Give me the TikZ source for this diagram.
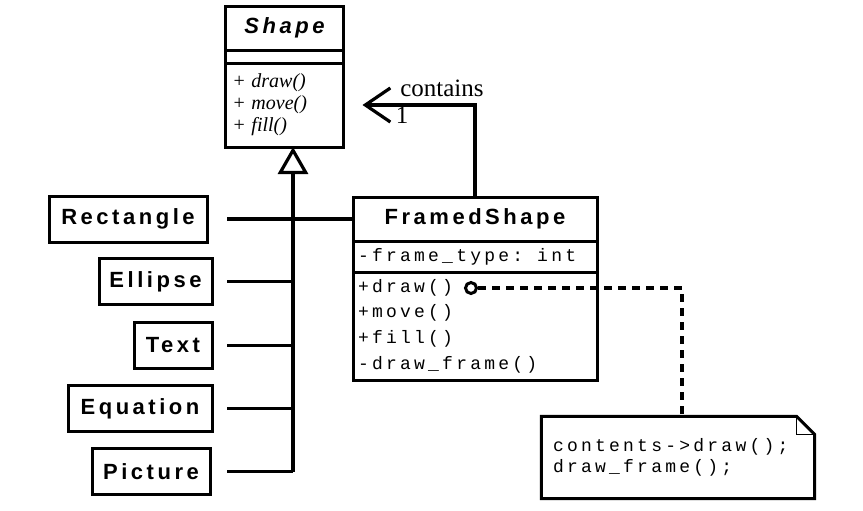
\documentclass[tikz,border=0pt]{standalone}
\usepackage{fontspec}
\setmainfont{Liberation Serif}
\newfontfamily\clsfont[LetterSpace=16]{Liberation Sans}
\newfontfamily\codefont[LetterSpace=18]{Liberation Mono}
\usetikzlibrary{positioning,arrows.meta}

\tikzset{
  box/.style={draw, line width=1.5pt, outer sep=0pt, inner sep=0pt},
  clsname/.style={box, font=\clsfont\bfseries\fontsize{11}{13}\selectfont},
  code/.style={font=\codefont\fontsize{9}{12.85}\selectfont, align=left},
  agg/.style={-{Straight Barb[length=12.5pt,width=17pt]}, shorten >=9.5pt},
  inherit/.style={-{Triangle[open,length=13.5pt,width=15pt]}}
}

\begin{document}
\begin{tikzpicture}[x=0.5pt, y=-0.5pt, line width=1.6pt]
  \useasboundingbox (0,0) rectangle (863,510);

  % Shape class
  \node[clsname, minimum width=59pt, minimum height=22pt] (shape) at (284.5,28) {\itshape Shape};
  \node[box, minimum width=59pt, minimum height=6.5pt, below=0pt of shape] (shapeattr) {};
  \node[box, align=left, text width=51pt, inner xsep=4pt, minimum height=42pt,
        font=\fontsize{10}{11}\selectfont, below=0pt of shapeattr] (shapeops)
        {+ \textit{draw()}\\+ \textit{move()}\\+ \textit{fill()}};

  % FramedShape class
  \node[clsname, minimum width=122pt, minimum height=22pt] (framed) at (475,219) {FramedShape};
  \node[box, code, text width=117pt, inner xsep=2.5pt, minimum height=15.5pt,
        below=0pt of framed] (framedattr) {-frame\_type:\hspace*{7pt}int};
  \node[box, code, text width=117pt, inner xsep=2.5pt, minimum height=54pt,
        below=0pt of framedattr] (framedops) {+draw()\\+move()\\+fill()\\-draw\_frame()};

  % subclasses
  \node[clsname, minimum width=79pt, minimum height=23pt] (rect) at (128,219) {Rectangle};
  \node[clsname, minimum width=56.5pt, minimum height=23pt] (ellipse) at (155.5,281.5) {Ellipse};
  \node[clsname, minimum width=39pt, minimum height=23pt] (txt) at (173,345.5) {Text};
  \node[clsname, minimum width=72pt, minimum height=23pt] (eqn) at (140,408.5) {Equation};
  \node[clsname, minimum width=59pt, minimum height=23pt] (pict) at (151,471.5) {Picture};

  \coordinate (busleft) at (227,0);
  \coordinate (bus) at (293,0);
  \foreach \n in {rect,ellipse,txt,eqn,pict}
    \draw (\n.east -| busleft) -- (\n.east -| bus);
  \draw (framed.west) -- (rect.east -| bus);
  \draw[inherit] (pict.east -| bus) -- (bus |- shapeops.south);

  % aggregation
  \draw[agg] (framed.north) |- (shapeops.east);
  \node[anchor=west, font=\fontsize{12.5}{14}\selectfont] (contains) at (392,88) {contains};
  \node[font=\fontsize{12.5}{14}\selectfont] (one) at (402,115) {1};

  % note
  \node[circle, draw, line width=1.5pt, minimum size=5.5pt, inner sep=0pt] (dot) at (471,288) {};
  \node[code, text width=125pt, inner xsep=5pt, minimum height=39.5pt,
        font=\codefont\fontsize{9}{10.5}\selectfont] (note) at (678,457.5)
        {contents->draw();\\draw\_frame();};
  \draw[line width=1.5pt] (note.north west) -- ([xshift=-9pt]note.north east) -- ([yshift=-9pt]note.north east)
        -- (note.south east) -- (note.south west) -- cycle;
  \draw[line width=0.6pt] ([xshift=-9pt]note.north east) |- ([yshift=-9pt]note.north east);
  \coordinate (bend) at (682,288);
  \draw[dash pattern=on 4pt off 3pt] (dot.east) -- (bend) -- (bend |- note.north);
\end{tikzpicture}
\end{document}
